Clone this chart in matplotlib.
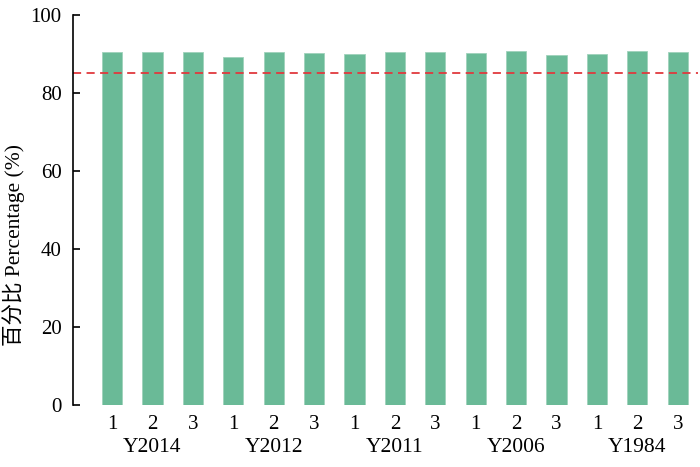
import matplotlib
matplotlib.use("Agg")
import matplotlib.pyplot as plt
import matplotlib.transforms as mtransforms
import numpy as np

groups = ["Y2014", "Y2012", "Y2011", "Y2006", "Y1984"]
sub_labels = ["1", "2", "3"]
values = [90.6, 90.6, 90.6, 89.3, 90.6, 90.2, 89.9, 90.6, 90.6,
          90.2, 90.8, 89.7, 89.9, 90.8, 90.6]
threshold = 85
yticks = [0, 20, 40, 60, 80, 100]

serif = ["Liberation Serif", "Noto Sans CJK SC", "DejaVu Sans"]
plt.rcParams["font.family"] = serif

fig = plt.figure(figsize=(7, 4.67), dpi=100)
ax = fig.add_axes([0.104, 0.133, 0.893, 0.835])

x = np.arange(len(values))
ax.bar(x, values, width=0.5, color="#6aba97", edgecolor="#9fd2bb", linewidth=0.6)
ax.axhline(threshold, color="#e0393e", linestyle=(0, (4.5, 3)), linewidth=1.3)

ax.set_ylim(0, 100)
ax.set_xlim(-0.97, 14.5)
ax.set_yticks(yticks)
ax.set_yticklabels([str(t) for t in yticks], fontsize=15)
ax.tick_params(axis="y", direction="in", length=5, width=1.2, pad=8)

ax.set_xticks(x)
ax.set_xticklabels(sub_labels * len(groups), fontsize=15)
ax.tick_params(axis="x", length=0, pad=7)

for s in ["top", "right", "bottom"]:
    ax.spines[s].set_visible(False)
ax.spines["left"].set_linewidth(1.2)

trans = mtransforms.blended_transform_factory(ax.transData, ax.transAxes)
for i, g in enumerate(groups):
    ax.text(3 * i + 1, -0.110, g, transform=trans, ha="center", va="center",
            fontsize=15.5)

ax.set_ylabel("百分比 Percentage (%)", fontsize=15.5)
ax.yaxis.set_label_coords(-0.077, 0.41)

fig.savefig("out.png", dpi=100)
